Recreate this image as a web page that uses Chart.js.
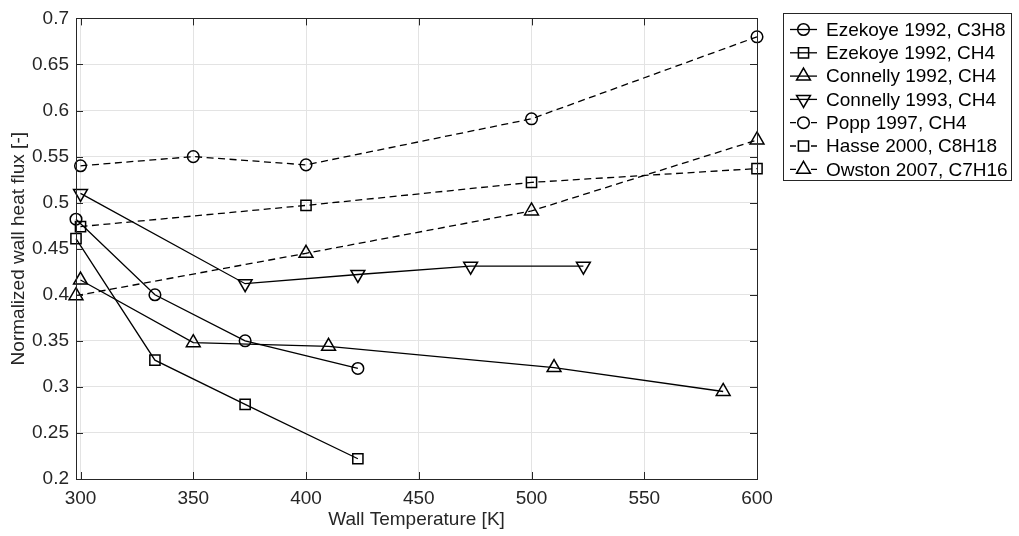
<!DOCTYPE html>
<html>
<head>
<meta charset="utf-8">
<script src="https://cdn.jsdelivr.net/npm/chart.js@4.4.1/dist/chart.umd.min.js"></script>
<style>
html,body{margin:0;padding:0;background:#fff;}
#c{display:block;}
</style>
</head>
<body>
<canvas id="c" width="1019" height="536"></canvas>
<script>
// ---- data ----
const xTicks = [300, 350, 400, 450, 500, 550, 600];
const yTicks = [0.2, 0.25, 0.3, 0.35, 0.4, 0.45, 0.5, 0.55, 0.6, 0.65, 0.7];
const yTickLabels = ['0.2','0.25','0.3','0.35','0.4','0.45','0.5','0.55','0.6','0.65','0.7'];

const ezekoyeC3H8_T = [298, 333, 373, 423];
const ezekoyeC3H8_Q = [0.482, 0.400, 0.350, 0.320];
const ezekoyeCH4_T  = [298, 333, 373, 423];
const ezekoyeCH4_Q  = [0.461, 0.329, 0.281, 0.222];
const connelly92_T  = [300, 350, 410, 510, 585];
const connelly92_Q  = [0.416, 0.348, 0.344, 0.321, 0.295];
const connelly93_T  = [300, 373, 423, 473, 523];
const connelly93_Q  = [0.510, 0.412, 0.422, 0.431, 0.431];
const popp_T        = [300, 350, 400, 500, 600];
const popp_Q        = [0.540, 0.550, 0.541, 0.591, 0.680];
const hasse_T       = [300, 400, 500, 600];
const hasse_Q       = [0.474, 0.497, 0.522, 0.537];
const owston_T      = [298, 400, 500, 600];
const owston_Q      = [0.399, 0.445, 0.491, 0.568];

const labels = ['Ezekoye 1992, C3H8','Ezekoye 1992, CH4','Connelly 1992, CH4','Connelly 1993, CH4','Popp 1997, CH4','Hasse 2000, C8H18','Owston 2007, C7H16'];

// ---- styling ----
const FONT = "'Liberation Sans', Arial, Helvetica, sans-serif";
const FS = 19;
const AX = '#262626';
const markers = {
  circle:   {pointStyle:'circle',   pointRadius:5.8, pointRotation:0},
  square:   {pointStyle:'rect',     pointRadius:7.2, pointRotation:0},
  triUp:    {pointStyle:'triangle', pointRadius:8,   pointRotation:0},
  triDown:  {pointStyle:'triangle', pointRadius:8,   pointRotation:180}
};
function ds(label, T, Q, mk, dashed){
  const m = markers[mk];
  return {
    label, data: T.map((t,i)=>({x:t, y:Q[i]})),
    showLine:true, borderColor:'#000', borderWidth:1.3,
    borderDash: dashed ? [7,4.5] : [],
    pointStyle:m.pointStyle, pointRadius:m.pointRadius, pointRotation:m.pointRotation,
    pointHoverRadius:m.pointRadius,
    pointBorderColor:'#000', pointBorderWidth:1.5,
    pointBackgroundColor:'rgba(0,0,0,0)',
    tension:0, clip:false,
    _mk: mk, _dashed: dashed
  };
}
const datasets = [
  ds(labels[0], ezekoyeC3H8_T, ezekoyeC3H8_Q, 'circle', false),
  ds(labels[1], ezekoyeCH4_T,  ezekoyeCH4_Q,  'square', false),
  ds(labels[2], connelly92_T,  connelly92_Q,  'triUp',  false),
  ds(labels[3], connelly93_T,  connelly93_Q,  'triDown',false),
  ds(labels[4], popp_T,        popp_Q,        'circle', true),
  ds(labels[5], hasse_T,       hasse_Q,       'square', true),
  ds(labels[6], owston_T,      owston_Q,      'triUp',  true)
];

function drawMarker(ctx, mk, x, y){
  const m = markers[mk];
  const r = m.pointRadius;
  ctx.beginPath();
  if (m.pointStyle === 'circle'){
    ctx.arc(x, y, r, 0, Math.PI*2);
  } else if (m.pointStyle === 'rect'){
    const s = r*Math.SQRT1_2;
    ctx.rect(x-s, y-s, 2*s, 2*s);
  } else {
    const rot = m.pointRotation*Math.PI/180;
    for (let k=0;k<3;k++){
      const a = rot - Math.PI/2 + k*2*Math.PI/3;
      const px = x + Math.cos(a)*r, py = y + Math.sin(a)*r;
      if (k===0) ctx.moveTo(px,py); else ctx.lineTo(px,py);
    }
    ctx.closePath();
  }
  ctx.stroke();
}

const boxPlugin = {
  id:'boxAndTicks',
  afterDraw(chart){
    const ctx = chart.ctx, a = chart.chartArea;
    const xs = chart.scales.x, ys = chart.scales.y;
    ctx.save();
    ctx.strokeStyle = AX; ctx.lineWidth = 1; ctx.setLineDash([]);
    ctx.strokeRect(Math.round(a.left)+0.5, Math.round(a.top)+0.5, Math.round(a.right-a.left), Math.round(a.bottom-a.top));
    const TL = 7;
    ctx.beginPath();
    xTicks.forEach(v=>{
      const px = Math.round(xs.getPixelForValue(v))+0.5;
      ctx.moveTo(px, a.bottom); ctx.lineTo(px, a.bottom-TL);
      ctx.moveTo(px, a.top); ctx.lineTo(px, a.top+TL);
    });
    yTicks.forEach(v=>{
      const py = Math.round(ys.getPixelForValue(v))+0.5;
      ctx.moveTo(a.left, py); ctx.lineTo(a.left+TL, py);
      ctx.moveTo(a.right, py); ctx.lineTo(a.right-TL, py);
    });
    ctx.stroke();

    // legend
    const L = 783.5, T = 13.5, W = 228, H = 167;
    ctx.fillStyle = '#fff';
    ctx.fillRect(L, T, W, H);
    ctx.strokeStyle = AX;
    ctx.strokeRect(L, T, W, H);
    ctx.font = FS + 'px ' + FONT;
    ctx.textBaseline = 'middle';
    ctx.textAlign = 'left';
    chart.data.datasets.forEach((d,i)=>{
      const y = 29.5 + i*23.3;
      ctx.strokeStyle = '#000';
      ctx.lineWidth = 1.3;
      ctx.beginPath();
      if (d._dashed){
        ctx.moveTo(790, y); ctx.lineTo(796, y);
        ctx.moveTo(811, y); ctx.lineTo(817, y);
      } else {
        ctx.moveTo(790, y); ctx.lineTo(817, y);
      }
      ctx.stroke();
      ctx.lineWidth = 1.5;
      drawMarker(ctx, d._mk, 803.5, y);
      ctx.fillStyle = '#000';
      ctx.fillText(d.label, 826, y+1);
    });
    ctx.restore();
  }
};

new Chart(document.getElementById('c'), {
  type:'scatter',
  data:{datasets},
  options:{
    responsive:false, animation:false, devicePixelRatio:1,
    layout:{padding:{top:13, right:262, left:0, bottom:0}},
    plugins:{legend:{display:false}, tooltip:{enabled:false}},
    scales:{
      x:{
        type:'linear', min:298, max:600,
        afterBuildTicks(s){ s.ticks = xTicks.map(v=>({value:v})); },
        afterFit(s){ s.height = 57; },
        ticks:{font:{family:FONT, size:FS}, color:AX, padding:8, maxRotation:0,
               callback:(v)=>String(v)},
        grid:{color:'#e3e3e3', lineWidth:1, drawTicks:false},
        border:{display:false},
        title:{display:true, text:'Wall Temperature [K]', font:{family:FONT, size:FS}, color:AX, padding:{top:0,bottom:5}}
      },
      y:{
        type:'linear', min:0.2, max:0.7,
        afterBuildTicks(s){ s.ticks = yTicks.map(v=>({value:v})); },
        afterFit(s){ s.width = 76; },
        ticks:{font:{family:FONT, size:FS}, color:AX, padding:7,
               callback:(v)=>{ const i = yTicks.findIndex(t=>Math.abs(t-v)<1e-9); return i>=0 ? yTickLabels[i] : ''; }},
        grid:{color:'#e3e3e3', lineWidth:1, drawTicks:false},
        border:{display:false},
        title:{display:true, text:'Normalized wall heat flux [-]', font:{family:FONT, size:FS}, color:AX, padding:{top:7,bottom:0}}
      }
    }
  },
  plugins:[boxPlugin]
});
</script>
</body>
</html>
